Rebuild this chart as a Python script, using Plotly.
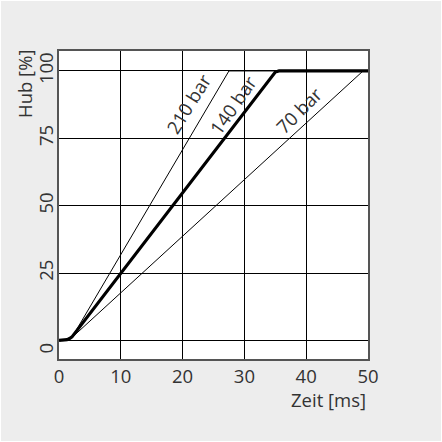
import plotly.graph_objects as go

# Valve stroke vs. time for three supply pressures
zeit_210 = [0, 0.8, 1.3, 1.7, 2.2, 27.5, 50]
hub_210 = [0, 0.1, 0.3, 0.8, 1.5, 100, 100]

zeit_140 = [0, 0.8, 1.3, 1.7, 2.1, 35.0, 35.6, 50]
hub_140 = [0, 0.1, 0.3, 0.7, 1.3, 99.6, 100, 100]

zeit_70 = [0, 0.8, 1.3, 1.7, 2.3, 49.2, 50]
hub_70 = [0, 0.1, 0.3, 0.7, 1.5, 100, 100]

curve_labels = ["210 bar", "140 bar", "70 bar"]
label_x = [20.9, 28.2, 38.9]
label_y = [88.0, 87.4, 85.6]
label_angle = [-58, -55, -45]

x_ticks = [0, 10, 20, 30, 40, 50]
y_grid = [0, 25, 50, 75, 100]
y_label_pos = [-3.9, 25, 50, 75, 100]
y_label_text = ["0", "25", "50", "75", "100"]

X_RANGE = [0, 50]
Y_RANGE = [-6.9, 107.4]

FONT = "Open Sans"
FS = 18.5
TXT = "#333333"

W, H = 442, 442
ML, MR, MT, MB = 59, 74, 51, 83
PW, PH = W - ML - MR, H - MT - MB


def px_x(p):
    return (p - ML) / PW


def px_y(p):
    return 1 - (p - MT) / PH


fig = go.Figure()
fig.add_trace(go.Scatter(x=zeit_210, y=hub_210, mode="lines",
                         line=dict(color="#000", width=1), hoverinfo="skip"))
fig.add_trace(go.Scatter(x=zeit_70, y=hub_70, mode="lines",
                         line=dict(color="#000", width=1), hoverinfo="skip"))
fig.add_trace(go.Scatter(x=zeit_140, y=hub_140, mode="lines",
                         line=dict(color="#000", width=3.2), hoverinfo="skip"))
# invisible trace carrying the offset y tick labels
fig.add_trace(go.Scatter(x=[None], y=[None], yaxis="y2", showlegend=False))

for txt, lx, ly, ang in zip(curve_labels, label_x, label_y, label_angle):
    fig.add_annotation(x=lx, y=ly, xref="x", yref="y", text=txt, showarrow=False,
                       textangle=ang, xanchor="center", yanchor="middle",
                       font=dict(family=FONT, size=FS, color=TXT), bgcolor="rgba(0,0,0,0)")

fig.add_annotation(x=px_x(25), y=px_y(84), xref="paper", yref="paper", text="Hub [%]",
                   showarrow=False, textangle=-90, xanchor="center", yanchor="middle",
                   font=dict(family=FONT, size=FS, color=TXT))
fig.add_annotation(x=1.0, y=px_y(399), xref="paper", yref="paper", text="Zeit [ms]",
                   showarrow=False, xanchor="right", yanchor="middle",
                   font=dict(family=FONT, size=FS, color=TXT))

# light grey panel and white plotting area
fig.add_shape(type="rect", xref="paper", yref="paper", layer="below",
              x0=px_x(1), x1=px_x(W - 1), y0=px_y(H - 1), y1=px_y(1),
              fillcolor="#ededed", line=dict(width=0))
fig.add_shape(type="rect", xref="paper", yref="paper", layer="below",
              x0=0, x1=1, y0=0, y1=1, fillcolor="#ffffff", line=dict(width=0))

fig.update_layout(
    width=W, height=H, margin=dict(l=ML, r=MR, t=MT, b=MB),
    paper_bgcolor="#ffffff", plot_bgcolor="#ffffff", showlegend=False,
    xaxis=dict(range=X_RANGE, tickvals=x_ticks, showgrid=True, gridcolor="#000",
               gridwidth=1, zeroline=False, showline=True, linecolor="#555",
               linewidth=1.5, mirror=True, ticks="", ticklabelstandoff=0,
               tickfont=dict(family=FONT, size=FS, color=TXT), fixedrange=True),
    yaxis=dict(range=Y_RANGE, tickvals=y_grid, showticklabels=False, showgrid=True,
               gridcolor="#000", gridwidth=1, zeroline=False, showline=True,
               linecolor="#555", linewidth=1.5, mirror=True, ticks="", fixedrange=True),
    yaxis2=dict(range=Y_RANGE, overlaying="y", side="left", tickvals=y_label_pos,
                ticktext=y_label_text, tickangle=-90, showgrid=False, zeroline=False,
                showline=False, ticks="", ticklabelstandoff=1,
                tickfont=dict(family=FONT, size=FS, color=TXT), fixedrange=True),
)

fig.write_html("out.html")
